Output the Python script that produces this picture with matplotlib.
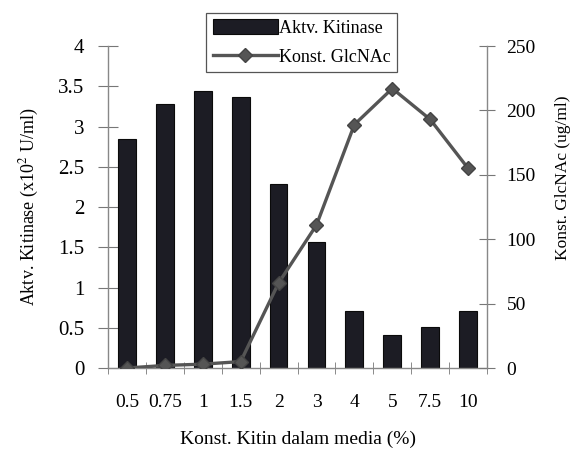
import numpy as np
import matplotlib.pyplot as plt

plt.rcParams['font.family'] = ['Liberation Serif', 'DejaVu Serif']
plt.rcParams['mathtext.fontset'] = 'stix'

kitin = ['0.5', '0.75', '1', '1.5', '2', '3', '4', '5', '7.5', '10']
aktv_kitinase = [2.85, 3.28, 3.44, 3.37, 2.28, 1.57, 0.71, 0.41, 0.51, 0.71]
konst_glcnac = [0, 2, 3, 5, 66, 111, 189, 217, 193, 155]

x = np.arange(len(kitin))

fig = plt.figure(figsize=(5.85, 4.51), dpi=100)
ax = fig.add_axes([0.1846, 0.184, 0.648, 0.714])
ax2 = ax.twinx()

bars = ax.bar(x, aktv_kitinase, width=0.47, color='#1c1c24', edgecolor='#0a0a0a',
              linewidth=0.8, label='Aktv. Kitinase', zorder=2)
line, = ax2.plot(x, konst_glcnac, color='#555555', lw=2.4, marker='D', ms=7,
                 markerfacecolor='#555555', markeredgecolor='#444444',
                 label='Konst. GlcNAc', zorder=3)

ax.set_zorder(ax2.get_zorder() - 1)
ax2.patch.set_visible(False)

ax.set_xlim(-0.5, len(kitin) - 0.5)
ax.set_ylim(0, 4)
ax2.set_ylim(0, 250)
ax.set_yticks(np.arange(0, 4.01, 0.5))
ax.set_yticklabels(['0', '0.5', '1', '1.5', '2', '2.5', '3', '3.5', '4'])
ax2.set_yticks([0, 50, 100, 150, 200, 250])

ax.set_xticks(x)
ax.set_xticklabels(kitin)
ax.set_xticks(np.arange(-0.5, len(kitin), 1.0), minor=True)
ax.tick_params(axis='x', which='major', length=0, pad=19, labelsize=14)
ax.tick_params(axis='x', which='minor', direction='inout', length=9, color='#777777')
ax.tick_params(axis='y', direction='inout', length=14, color='#777777', labelsize=15, pad=10)
ax2.tick_params(axis='y', direction='inout', length=12, color='#777777', labelsize=14, pad=8)

for a in (ax, ax2):
    a.spines['top'].set_visible(False)
    for s in ('left', 'right', 'bottom'):
        a.spines[s].set_color('#888888')
        a.spines[s].set_linewidth(1.0)
ax.spines['right'].set_visible(False)
ax2.spines['left'].set_visible(False)
ax2.spines['bottom'].set_visible(False)

ax.set_ylabel('Aktv. Kitinase (x10$^2$ U/ml)', fontsize=13, labelpad=12)
ax2.set_ylabel('Konst. GlcNAc (ug/ml)', fontsize=12.5)
ax2.yaxis.set_label_coords(1.18, 0.59)
ax.set_xlabel('Konst. Kitin dalam media (%)', fontsize=14, labelpad=14)

leg = fig.legend([bars, line], ['Aktv. Kitinase', 'Konst. GlcNAc'],
                 loc='upper center', bbox_to_anchor=(0.516, 0.992), fontsize=13,
                 fancybox=False, edgecolor='#555555', framealpha=1,
                 handlelength=3.6, handleheight=0.9, borderpad=0.35,
                 labelspacing=0.65, handletextpad=0.1)
leg.get_frame().set_linewidth(0.9)

fig.savefig('out.png', dpi=100)
